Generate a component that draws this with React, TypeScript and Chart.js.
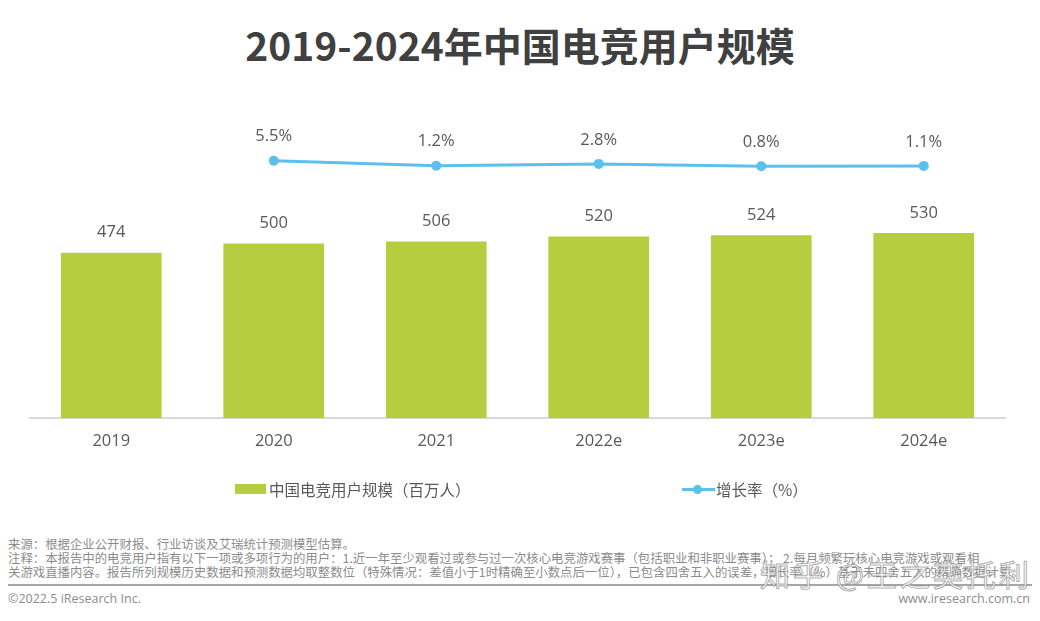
import React, { useEffect, useRef } from "react";
import { Chart, registerables } from "chart.js";

Chart.register(...registerables);

const title = "2019-2024年中国电竞用户规模";
const categories = ["2019", "2020", "2021", "2022e", "2023e", "2024e"];
const userScale = [474, 500, 506, 520, 524, 530];
const growthRate: (number | null)[] = [null, 5.5, 1.2, 2.8, 0.8, 1.1];
const barLegend = "中国电竞用户规模（百万人）";
const lineLegend = "增长率（%）";
const noteLines = [
  "来源：根据企业公开财报、行业访谈及艾瑞统计预测模型估算。",
  "注释：本报告中的电竞用户指有以下一项或多项行为的用户：1.近一年至少观看过或参与过一次核心电竞游戏赛事（包括职业和非职业赛事）； 2.每月频繁玩核心电竞游戏或观看相",
  "关游戏直播内容。报告所列规模历史数据和预测数据均取整数位（特殊情况：差值小于1时精确至小数点后一位），已包含四舍五入的误差，增长率（%）基于未四舍五入的精确数据计算。",
];
const copyright = "©2022.5 iResearch Inc.";
const website = "www.iresearch.com.cn";
const watermark = "知乎 @王之奕托利";

const BAR_COLOR = "#B5CD3E";
const LINE_COLOR = "#5BC0EB";
const TEXT_COLOR = "#595959";
const NUM_FONT = '"Open Sans", "Noto Sans CJK SC", sans-serif';
const CJK_FONT = '"Noto Sans CJK SC", "Open Sans", sans-serif';

const labelPlugin = {
  id: "valueLabels",
  afterDatasetsDraw(chart: any) {
    const ctx = chart.ctx;
    ctx.save();
    ctx.font = `16.5px ${NUM_FONT}`;
    ctx.fillStyle = TEXT_COLOR;
    ctx.textAlign = "center";
    ctx.textBaseline = "middle";
    chart.getDatasetMeta(0).data.forEach((el: any, i: number) => {
      ctx.fillText(String(userScale[i]), el.x, el.y - 20);
    });
    chart.getDatasetMeta(1).data.forEach((el: any, i: number) => {
      const v = growthRate[i];
      if (v == null) return;
      ctx.fillText(v.toFixed(1) + "%", el.x, el.y - 24);
    });
    ctx.restore();
  },
};

export default function App() {
  const canvasRef = useRef<HTMLCanvasElement | null>(null);

  useEffect(() => {
    document.body.style.margin = "0";
    const canvas = canvasRef.current;
    if (!canvas) return;
    const chart = new Chart(canvas, {
      type: "bar",
      data: {
        labels: categories,
        datasets: [
          {
            type: "bar",
            label: barLegend,
            data: userScale,
            backgroundColor: BAR_COLOR,
            barPercentage: 0.62,
            categoryPercentage: 1,
            yAxisID: "y",
            order: 2,
          },
          {
            type: "line",
            label: lineLegend,
            data: growthRate,
            borderColor: LINE_COLOR,
            backgroundColor: LINE_COLOR,
            borderWidth: 3,
            pointRadius: 5,
            pointHoverRadius: 5,
            pointBackgroundColor: LINE_COLOR,
            pointBorderWidth: 0,
            tension: 0,
            yAxisID: "y1",
            order: 1,
          } as any,
        ],
      },
      options: {
        responsive: false,
        animation: false,
        layout: { padding: { top: 100, left: 30, right: 35, bottom: 16 } },
        plugins: {
          legend: { display: false },
          tooltip: { enabled: false },
          title: { display: false },
        },
        scales: {
          x: {
            grid: { display: false, drawTicks: false },
            border: { display: true, color: "#D9D9D9", width: 2 },
            ticks: {
              color: TEXT_COLOR,
              padding: 13,
              font: { family: NUM_FONT, size: 16.5 },
            },
          },
          y: {
            display: false,
            min: 0,
            max: 911,
          },
          y1: {
            display: false,
            min: -213,
            max: 57,
          },
        },
      },
      plugins: [labelPlugin],
    });
    return () => chart.destroy();
  }, []);

  const noteCenters = [544, 558, 571.5];

  return (
    <div
      style={{
        position: "absolute",
        left: 0,
        top: 0,
        width: 1040,
        height: 621,
        background: "#ffffff",
        overflow: "hidden",
      }}
    >
      <div
        style={{
          position: "absolute",
          left: 0,
          top: 19,
          width: 1040,
          textAlign: "center",
          fontFamily: CJK_FONT,
          fontWeight: 700,
          fontSize: 39,
          lineHeight: "50px",
          color: "#404040",
        }}
      >
        {title}
      </div>
      <canvas
        ref={canvasRef}
        width={1040}
        height={480}
        style={{ position: "absolute", left: 0, top: 0, width: 1040, height: 480 }}
      />
      {/* legend */}
      <div
        style={{
          position: "absolute",
          left: 235,
          top: 484,
          width: 31,
          height: 10,
          background: BAR_COLOR,
        }}
      />
      <div
        style={{
          position: "absolute",
          left: 269,
          top: 478,
          fontFamily: CJK_FONT,
          fontSize: 15.5,
          lineHeight: "22px",
          color: TEXT_COLOR,
          whiteSpace: "nowrap",
        }}
      >
        {barLegend}
      </div>
      <div
        style={{
          position: "absolute",
          left: 682,
          top: 488,
          width: 33,
          height: 3,
          background: LINE_COLOR,
        }}
      />
      <div
        style={{
          position: "absolute",
          left: 693,
          top: 485,
          width: 9,
          height: 9,
          borderRadius: "50%",
          background: LINE_COLOR,
        }}
      />
      <div
        style={{
          position: "absolute",
          left: 716,
          top: 478,
          fontFamily: CJK_FONT,
          fontSize: 15.5,
          lineHeight: "22px",
          color: TEXT_COLOR,
          whiteSpace: "nowrap",
        }}
      >
        {lineLegend}
      </div>
      {/* notes */}
      {noteLines.map((t, i) => (
        <div
          key={i}
          style={{
            position: "absolute",
            left: 8,
            top: noteCenters[i] - 7,
            fontFamily: CJK_FONT,
            fontSize: 12.4,
            lineHeight: "14px",
            color: "#8C8C8C",
            whiteSpace: "nowrap",
          }}
        >
          {t}
        </div>
      ))}
      <div
        style={{
          position: "absolute",
          left: 8,
          top: 584,
          width: 1024,
          height: 2,
          background: "#A6A6A6",
        }}
      />
      <div
        style={{
          position: "absolute",
          left: 8,
          top: 591,
          fontFamily: NUM_FONT,
          fontSize: 12.5,
          lineHeight: "15px",
          color: "#8C8C8C",
          whiteSpace: "nowrap",
        }}
      >
        {copyright}
      </div>
      <div
        style={{
          position: "absolute",
          right: 10,
          top: 591,
          fontFamily: NUM_FONT,
          fontSize: 12.5,
          lineHeight: "15px",
          color: "#8C8C8C",
          whiteSpace: "nowrap",
        }}
      >
        {website}
      </div>
      <div
        style={{
          position: "absolute",
          left: 760,
          top: 555,
          fontFamily: CJK_FONT,
          fontSize: 30,
          lineHeight: "36px",
          color: "rgba(255,255,255,0.75)",
          WebkitTextStroke: "1px rgba(120,120,120,0.6)",
          whiteSpace: "nowrap",
          letterSpacing: 3,
        }}
      >
        {watermark}
      </div>
    </div>
  );
}
